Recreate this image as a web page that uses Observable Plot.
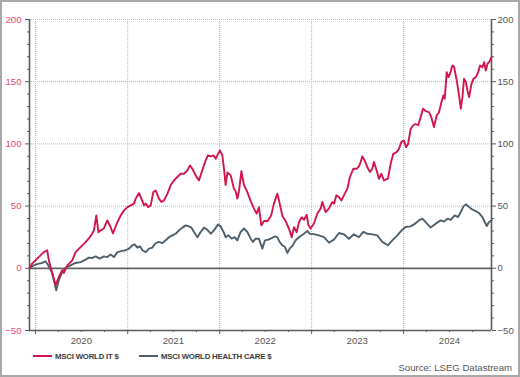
<!DOCTYPE html>
<html>
<head>
<meta charset="utf-8">
<script src="https://cdn.jsdelivr.net/npm/d3@7"></script>
<script src="https://cdn.jsdelivr.net/npm/@observablehq/plot@0.6"></script>
<style>
  html, body { margin: 0; padding: 0; background: #fff; }
  #wrap { position: relative; width: 520px; height: 377px; font-family: "Liberation Sans", Arial, sans-serif; overflow: hidden; }
  #border { position: absolute; left: 0; top: 0; width: 520px; height: 377px; box-sizing: border-box; border: 2px solid #a8a8a8; pointer-events: none; }
  .legend { position: absolute; top: 351px; height: 10px; display: flex; align-items: center; font-size: 7.8px; font-weight: bold; color: #3c3c3c; letter-spacing: -0.2px; white-space: nowrap; }
  .legend .sw { width: 19px; height: 2px; margin-right: 3px; }
  #source { position: absolute; right: 8px; top: 362px; font-size: 9.6px; color: #555; white-space: nowrap; }
</style>
</head>
<body>
<div id="wrap">
  <div id="chart"></div>
  <div class="legend" style="left:33px"><span class="sw" style="background:#d2164d"></span>MSCI WORLD IT $</div>
  <div class="legend" style="left:139px"><span class="sw" style="background:#4f606d"></span>MSCI WORLD HEALTH CARE $</div>
  <div id="source">Source: LSEG Datastream</div>
  <div id="border"></div>
</div>
<script>
// Series names
const seriesNames = ["MSCI WORLD IT $", "MSCI WORLD HEALTH CARE $"];

// MSCI World IT ($), % change since start — dates as decimal years
const itYears = [2019.935,2019.964,2020.018,2020.054,2020.090,2020.127,2020.145,2020.182,2020.217,2020.253,2020.290,2020.308,2020.345,2020.399,2020.435,2020.489,2020.543,2020.579,2020.616,2020.634,2020.660,2020.682,2020.707,2020.742,2020.779,2020.815,2020.840,2020.888,2020.924,2020.960,2020.997,2021.033,2021.068,2021.087,2021.123,2021.149,2021.177,2021.196,2021.221,2021.250,2021.279,2021.304,2021.340,2021.366,2021.395,2021.432,2021.467,2021.503,2021.540,2021.576,2021.612,2021.649,2021.677,2021.703,2021.739,2021.775,2021.823,2021.848,2021.873,2021.902,2021.932,2021.957,2021.982,2022.003,2022.029,2022.047,2022.065,2022.084,2022.120,2022.155,2022.174,2022.192,2022.210,2022.236,2022.264,2022.301,2022.337,2022.373,2022.402,2022.427,2022.453,2022.482,2022.522,2022.560,2022.590,2022.627,2022.645,2022.682,2022.717,2022.753,2022.783,2022.808,2022.837,2022.862,2022.891,2022.918,2022.946,2022.964,2022.989,2023.025,2023.062,2023.098,2023.116,2023.152,2023.188,2023.225,2023.245,2023.268,2023.297,2023.323,2023.351,2023.388,2023.416,2023.453,2023.489,2023.514,2023.533,2023.551,2023.576,2023.605,2023.634,2023.660,2023.677,2023.707,2023.732,2023.758,2023.786,2023.829,2023.859,2023.888,2023.924,2023.949,2023.975,2024.003,2024.027,2024.049,2024.076,2024.105,2024.130,2024.158,2024.185,2024.210,2024.239,2024.275,2024.301,2024.329,2024.359,2024.384,2024.410,2024.432,2024.446,2024.467,2024.486,2024.503,2024.529,2024.547,2024.576,2024.601,2024.620,2024.638,2024.655,2024.674,2024.692,2024.710,2024.736,2024.758,2024.783,2024.808,2024.829,2024.855,2024.873,2024.891,2024.910,2024.927,2024.953];
const itValues = [0,3.8,7.8,10.4,13,14.5,6.4,-4,-13.7,-7,-1.6,-3.7,2.4,6.4,13,17,21,24,28,30.5,42.5,29,30.5,32,38.5,33,28,37,42.5,46.6,49.2,50.6,52,56,60.5,56,50.6,52,49.2,50.6,61.3,62.6,56,53.3,54.6,60,66.7,70.7,73.4,76,76,78.7,82.7,80,74.7,70.7,81.4,86.7,90.8,90,90.8,88,92,94.8,90.8,80,67,77,74.7,64,62,56,62,78,67,61.3,54,48,44,49,34.5,38,38,42.5,52,60,54.6,42,38,32,25,33,29,37,41,39,43,35,32,36,44,48,53.3,45.2,48,53.3,52,58.6,57.3,54.6,58.6,64,73.4,80,80,82,85.4,90,86.7,81.4,77.4,80,85.4,78.7,72,76,70.7,72,84,92,93.4,96,101.4,102.8,97.4,100,112,115,116,115,121.5,128.3,126.4,125.5,121.5,113.5,122.9,125.5,133.6,139,136.3,157.7,153.7,156.4,163,162,151,139,128.3,137.6,152.4,150,143,137.6,148.3,152.4,153.7,157.7,163,161.7,165.7,159,164.4,165.7,169.7];

// MSCI World Health Care ($), % change since start — dates as decimal years
const hcYears = [2019.935,2019.982,2020.036,2020.073,2020.109,2020.138,2020.182,2020.225,2020.253,2020.290,2020.326,2020.380,2020.435,2020.489,2020.543,2020.579,2020.616,2020.652,2020.696,2020.742,2020.779,2020.815,2020.851,2020.888,2020.942,2020.978,2021.014,2021.051,2021.076,2021.105,2021.134,2021.160,2021.196,2021.232,2021.268,2021.304,2021.340,2021.377,2021.413,2021.449,2021.486,2021.522,2021.558,2021.595,2021.630,2021.666,2021.692,2021.721,2021.758,2021.793,2021.829,2021.866,2021.902,2021.938,2021.982,2022.011,2022.047,2022.065,2022.095,2022.130,2022.163,2022.192,2022.228,2022.264,2022.301,2022.337,2022.362,2022.391,2022.427,2022.464,2022.492,2022.529,2022.565,2022.601,2022.627,2022.652,2022.682,2022.710,2022.736,2022.761,2022.790,2022.826,2022.862,2022.916,2022.953,2022.978,2023.022,2023.079,2023.134,2023.188,2023.242,2023.297,2023.351,2023.405,2023.460,2023.514,2023.562,2023.605,2023.660,2023.714,2023.768,2023.829,2023.877,2023.932,2023.986,2024.022,2024.076,2024.112,2024.166,2024.203,2024.239,2024.293,2024.348,2024.402,2024.438,2024.475,2024.511,2024.554,2024.590,2024.620,2024.649,2024.674,2024.710,2024.747,2024.783,2024.818,2024.855,2024.880,2024.902,2024.924,2024.953];
const hcValues = [0,2.4,3.8,4.3,5.6,2.4,-4,-17.7,-9.6,-3,0.5,2.4,4.3,5,7,8.6,8.3,9.6,7.8,9.6,9,11.2,9,13,14,14.5,15.8,18.5,19.3,16.6,17.7,14.5,13,15.8,16.6,20.3,21.2,20.3,22.5,25,26.5,27.8,30.5,32.7,34.5,33.7,32.7,29.2,25,29.2,32.7,31,27.8,30.5,35.3,33.7,28.4,25,26.5,23.8,25,22.5,29.2,32,29.2,23.8,21.2,23.8,23.8,15.8,22.5,23,24.3,25.7,25,21.2,18.5,17.1,12.3,15.8,18,22.5,25,27.8,30,27.8,27.5,26.5,25,20.6,23,28.4,27.3,23.8,27.3,25,29.2,27.8,27.3,26.5,21.2,18.5,22.5,26.5,31,33.2,33.7,35.3,38.5,39.9,37.2,32.7,35.9,38.5,37.5,39.9,39,42.5,41.2,45.2,49.8,51.4,49.2,47.1,46,44.4,41.2,37.2,34,37,38.5];

// Axis ticks and labels
const yMajorTicks = [-50, 0, 50, 100, 150, 200];
const yGridTicks = [50, 100, 150, 200];
const yearLabels = [2020, 2021, 2022, 2023, 2024];

const colors = { it: "#d2164d", hc: "#4f606d" };

function toDate(y) {
  const yr = Math.floor(y);
  const a = Date.UTC(yr, 0, 1), b = Date.UTC(yr + 1, 0, 1);
  return new Date(a + (y - yr) * (b - a));
}

const data = [
  ...itYears.map((t, i) => ({ date: toDate(t), value: itValues[i], series: seriesNames[0] })),
  ...hcYears.map((t, i) => ({ date: toDate(t), value: hcValues[i], series: seriesNames[1] }))
];

const xMin = toDate(Math.min(itYears[0], hcYears[0]));
const xMax = toDate(Math.max(itYears[itYears.length - 1], hcYears[hcYears.length - 1]));

const yearStarts = yearLabels.map(y => new Date(Date.UTC(y, 0, 1)));
const yearMids = yearLabels.map(y => new Date(Date.UTC(y, 6, 1)));
const quarterTicks = yearLabels.flatMap(y => [3, 6, 9].map(m => new Date(Date.UTC(y, m, 1))));
const yMinorTicks = d3.range(-50, 201, 10).filter(v => !yMajorTicks.includes(v));

const font = "'Liberation Sans', Arial, sans-serif";
const axisColor = "#5a5a5a";

const chart = Plot.plot({
  width: 520,
  height: 377,
  marginLeft: 29,
  marginRight: 29,
  marginTop: 19,
  marginBottom: 47,
  style: { fontFamily: font, background: "transparent" },
  x: { type: "utc", domain: [xMin, xMax], label: null },
  y: { domain: [-50, 200], label: null },
  marks: [
    Plot.gridY(yGridTicks, { stroke: "#b5b5b5", strokeOpacity: 1, strokeDasharray: "1,1" }),
    Plot.gridX(yearStarts, { stroke: "#b5b5b5", strokeOpacity: 1, strokeDasharray: "1,1" }),
    Plot.ruleY([0], { stroke: "#626262", strokeWidth: 1.7 }),
    Plot.ruleY([-50], { stroke: axisColor, strokeWidth: 1.6 }),
    Plot.ruleX([xMin, xMax], { stroke: axisColor, strokeWidth: 1.6 }),
    Plot.lineY(data.filter(d => d.series === seriesNames[1]), { x: "date", y: "value", stroke: colors.hc, strokeWidth: 1.9, curve: "linear" }),
    Plot.lineY(data.filter(d => d.series === seriesNames[0]), { x: "date", y: "value", stroke: colors.it, strokeWidth: 1.9, curve: "linear" }),
    // left axis
    Plot.axisY(yMajorTicks, { anchor: "left", tickSize: 4, tickPadding: 4, stroke: axisColor, fill: "#de4a7c", fontSize: 9.6, label: null }),
    Plot.axisY(yMinorTicks, { anchor: "left", tickSize: 2, stroke: axisColor, fill: "none", label: null }),
    // right axis
    Plot.axisY(yMajorTicks, { anchor: "right", tickSize: 4, tickPadding: 2, stroke: axisColor, fill: "#555", fontSize: 9.6, label: null }),
    Plot.axisY(yMinorTicks, { anchor: "right", tickSize: 2, stroke: axisColor, fill: "none", label: null }),
    // bottom axis
    Plot.axisX(yearStarts, { anchor: "bottom", tickSize: 4, stroke: axisColor, fill: "none", label: null }),
    Plot.axisX(quarterTicks, { anchor: "bottom", tickSize: 2, stroke: axisColor, fill: "none", label: null }),
    Plot.axisX(yearMids, { anchor: "bottom", tickSize: 0, tickPadding: 7, tickFormat: d3.utcFormat("%Y"), fill: "#555", fontSize: 9.6, label: null })
  ]
});

document.getElementById("chart").appendChild(chart);
</script>
</body>
</html>
